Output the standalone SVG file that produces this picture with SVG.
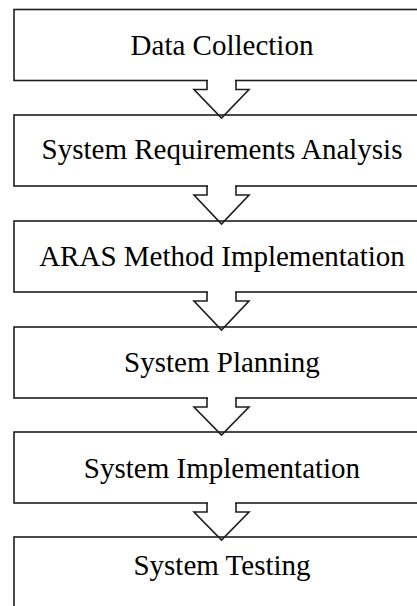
<svg xmlns="http://www.w3.org/2000/svg" width="417" height="606" viewBox="0 0 417 606">
<style>
.box{fill:#fff;stroke:#1e1e1e;stroke-width:1.6}
.lbl{font-family:"Liberation Serif","Times New Roman",serif;font-size:29px;fill:#000;text-anchor:middle}
.arr{fill:none;stroke:#1e1e1e;stroke-width:1.6;stroke-linejoin:miter}
.cover{fill:#fff;stroke:none}
</style>
<rect width="417" height="606" fill="#fff"/>
<g id="n1"><rect class="box" x="14" y="9.5" width="416" height="71"/><text class="lbl" x="222" y="54.5">Data Collection</text></g>
<g id="n2"><rect class="box" x="14" y="115" width="416" height="71"/><text class="lbl" x="222" y="158.5">System Requirements Analysis</text></g>
<g id="n3"><rect class="box" x="14" y="221" width="416" height="71"/><text class="lbl" x="222" y="266">ARAS Method Implementation</text></g>
<g id="n4"><rect class="box" x="14" y="327" width="416" height="71"/><text class="lbl" x="222" y="372">System Planning</text></g>
<g id="n5"><rect class="box" x="14" y="432" width="416" height="71"/><text class="lbl" x="222" y="477.5">System Implementation</text></g>
<g id="n6"><rect class="box" x="14" y="537" width="416" height="110"/><text class="lbl" x="222" y="575">System Testing</text></g>
<g id="connectors">
<rect class="cover" x="208" y="78" width="27" height="5"/>
<path class="arr" d="M207,80.5 L207,89.5 L194,89.5 L221.5,118 L249,89.5 L236,89.5 L236,80.5"/>
<rect class="cover" x="208" y="184" width="27" height="5"/>
<path class="arr" d="M207,186 L207,195 L194,195 L221.5,224 L249,195 L236,195 L236,186"/>
<rect class="cover" x="208" y="290" width="27" height="5"/>
<path class="arr" d="M207,292 L207,301 L194,301 L221.5,330 L249,301 L236,301 L236,292"/>
<rect class="cover" x="208" y="396" width="27" height="5"/>
<path class="arr" d="M207,398 L207,407 L194,407 L221.5,435 L249,407 L236,407 L236,398"/>
<rect class="cover" x="208" y="501" width="27" height="5"/>
<path class="arr" d="M207,503 L207,512 L194,512 L221.5,540 L249,512 L236,512 L236,503"/>
</g>
</svg>
